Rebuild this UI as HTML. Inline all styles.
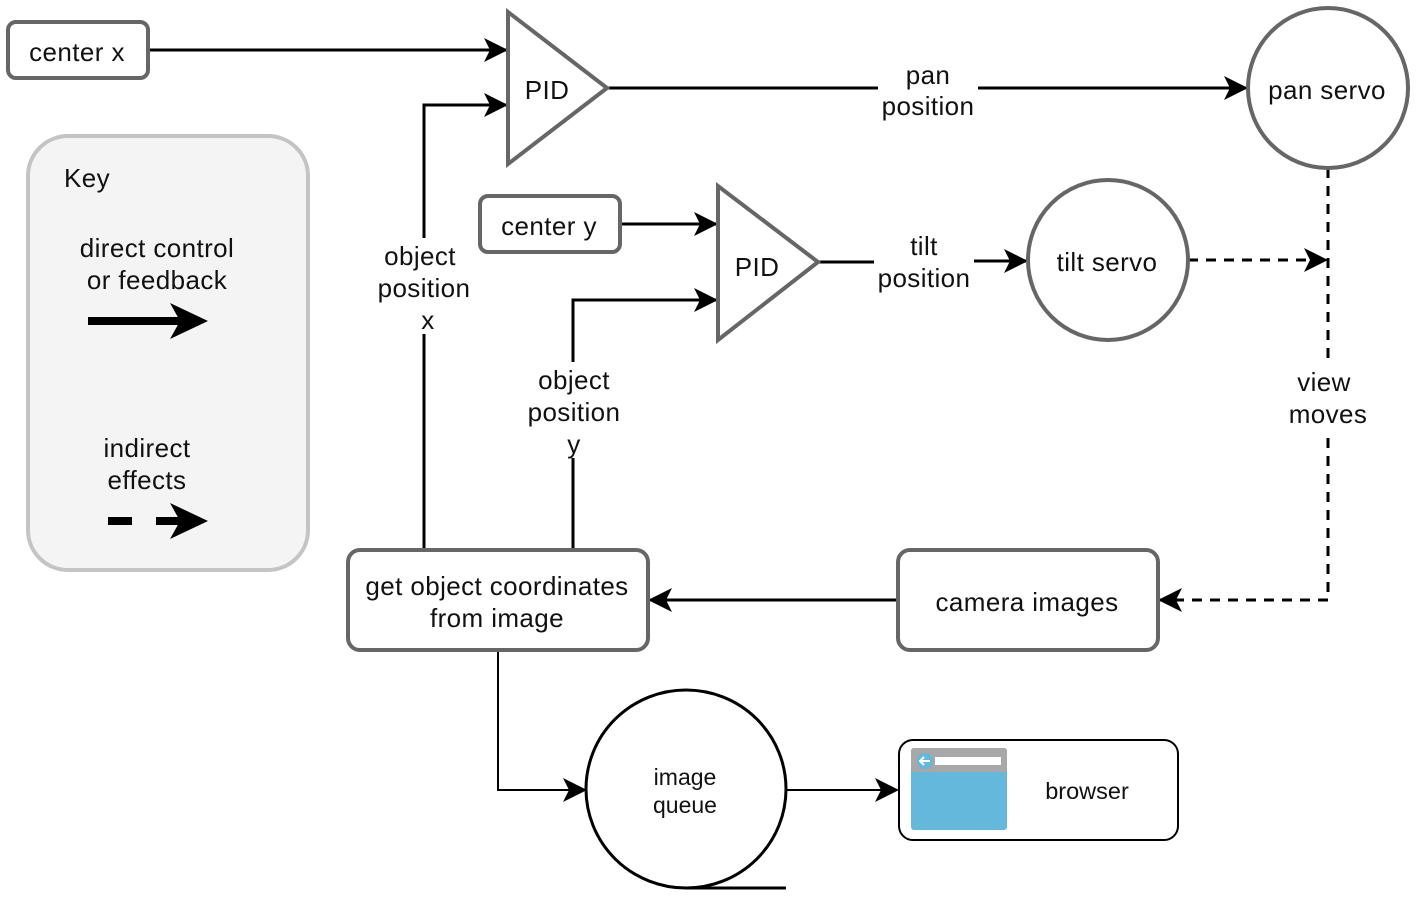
<!DOCTYPE html>
<html><head><meta charset="utf-8"><style>
html,body{margin:0;padding:0;background:#fff}
svg{display:block}
text{font-family:"Liberation Sans",sans-serif;fill:#111;text-anchor:middle}
.t{font-size:26px;letter-spacing:0.4px}
</style></head><body>
<svg width="1416" height="897" viewBox="0 0 1416 897" xmlns="http://www.w3.org/2000/svg">
<defs>
<marker id="b" markerWidth="24" markerHeight="24" refX="22" refY="12" orient="auto" markerUnits="userSpaceOnUse" viewBox="0 0 24 24">
<path d="M0,0 L24,12 L0,24 L6,12 Z" fill="#000"/>
</marker>
</defs>
<!-- key -->
<rect x="28" y="136" width="280" height="434" rx="40" fill="#f4f4f4" stroke="#c4c4c4" stroke-width="4"/>
<text class="t" x="87" y="187">Key</text>
<text class="t" x="157" y="257">direct control</text>
<text class="t" x="157" y="289">or feedback</text>
<line x1="88" y1="321" x2="180" y2="321" stroke="#000" stroke-width="8"/>
<path d="M170,303 L208,321 L170,339 L180,321 Z" fill="#000"/>
<text class="t" x="147" y="457">indirect</text>
<text class="t" x="147" y="489">effects</text>
<line x1="108" y1="521" x2="132" y2="521" stroke="#000" stroke-width="8"/>
<line x1="156" y1="521" x2="180" y2="521" stroke="#000" stroke-width="8"/>
<path d="M170,503 L208,521 L170,539 L180,521 Z" fill="#000"/>

<g stroke="#000" stroke-width="3" fill="none">
<line x1="148" y1="50" x2="506" y2="50" marker-end="url(#b)"/>
<polyline points="424,548 424,105 506,105" marker-end="url(#b)"/>
<line x1="607" y1="88" x2="878" y2="88"/>
<line x1="978" y1="88" x2="1246" y2="88" marker-end="url(#b)"/>
<line x1="620" y1="224" x2="716" y2="224" marker-end="url(#b)"/>
<polyline points="573,548 573,300 716,300" marker-end="url(#b)"/>
<line x1="818" y1="262" x2="874" y2="262"/>
<line x1="974" y1="261" x2="1026" y2="261" marker-end="url(#b)"/>
<line x1="1188" y1="260" x2="1326" y2="260" stroke-dasharray="10,8" marker-end="url(#b)"/>
<line x1="1328" y1="168" x2="1328" y2="600" stroke-dasharray="10,8"/>
<line x1="1328" y1="600" x2="1160" y2="600" stroke-dasharray="10,8" marker-end="url(#b)"/>
<line x1="898" y1="600" x2="650" y2="600" marker-end="url(#b)"/>
<polyline points="498,650 498,790 585,790" stroke-width="2" marker-end="url(#b)"/>
<line x1="786" y1="790" x2="897" y2="790" stroke-width="2" marker-end="url(#b)"/>
</g>
<rect x="366" y="238" width="116" height="96" fill="#fff"/>
<rect x="516" y="362" width="116" height="96" fill="#fff"/>
<rect x="1280" y="362" width="96" height="70" fill="#fff"/>
<text class="t" x="420" y="265">object</text>
<text class="t" x="424" y="297">position</text>
<text class="t" x="428" y="329">x</text>
<text class="t" x="574" y="389">object</text>
<text class="t" x="574" y="421">position</text>
<text class="t" x="574" y="453">y</text>
<text class="t" x="928" y="84">pan</text>
<text class="t" x="928" y="115">position</text>
<text class="t" x="924" y="255">tilt</text>
<text class="t" x="924" y="287">position</text>
<text class="t" x="1324" y="391">view</text>
<text class="t" x="1328" y="423">moves</text>

<rect x="8" y="22" width="140" height="56" rx="8" fill="#fff" stroke="#666" stroke-width="4"/>
<text class="t" x="77" y="61">center x</text>
<rect x="480" y="196" width="140" height="56" rx="8" fill="#fff" stroke="#666" stroke-width="4"/>
<text class="t" x="549" y="235">center y</text>
<polygon points="508,12 508,164 607,88" fill="#fff" stroke="#666" stroke-width="4"/>
<text class="t" x="547" y="99">PID</text>
<polygon points="718,186 718,340 818,262" fill="#fff" stroke="#666" stroke-width="4"/>
<text class="t" x="757" y="276">PID</text>
<circle cx="1328" cy="88" r="80" fill="#fff" stroke="#666" stroke-width="4"/>
<text class="t" x="1327" y="99">pan servo</text>
<circle cx="1108" cy="260" r="80" fill="#fff" stroke="#666" stroke-width="4"/>
<text class="t" x="1107" y="271">tilt servo</text>
<rect x="898" y="550" width="260" height="100" rx="12" fill="#fff" stroke="#666" stroke-width="4"/>
<text class="t" x="1027" y="611">camera images</text>
<rect x="348" y="550" width="300" height="100" rx="12" fill="#fff" stroke="#666" stroke-width="4"/>
<text class="t" x="497" y="595">get object coordinates</text>
<text class="t" x="497" y="627">from image</text>

<ellipse cx="686" cy="789" rx="100" ry="99" fill="#fff" stroke="#000" stroke-width="3"/>
<line x1="686" y1="888" x2="786" y2="888" stroke="#000" stroke-width="3"/>
<text x="685" y="785" font-size="23">image</text>
<text x="685" y="813" font-size="23">queue</text>

<rect x="899" y="740" width="279" height="100" rx="14" fill="#fff" stroke="#000" stroke-width="2"/>
<rect x="911" y="748" width="96" height="82" rx="3" fill="#63b8dc"/>
<rect x="911" y="748" width="96" height="24" rx="3" fill="#a8a8a8"/>
<rect x="935" y="757" width="66" height="8" fill="#fff"/>
<circle cx="925" cy="761" r="8" fill="#63b8dc"/>
<path d="M930,761 L920,761 M924,757 L920,761 L924,765" stroke="#fff" stroke-width="2" fill="none"/>
<text x="1087" y="799" font-size="23.5">browser</text>
</svg>
</body></html>
